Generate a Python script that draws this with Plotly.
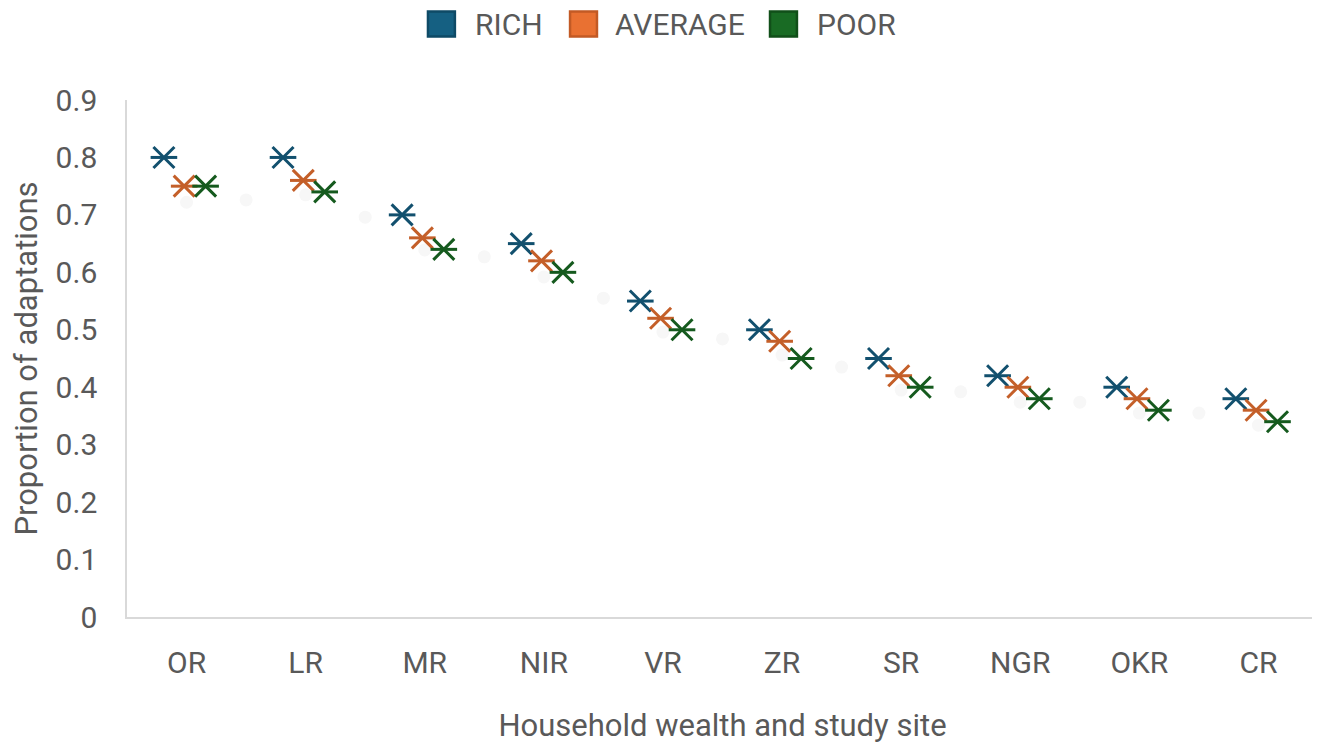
import plotly.graph_objects as go

categories = ["OR", "LR", "MR", "NIR", "VR", "ZR", "SR", "NGR", "OKR", "CR"]
rich = [0.80, 0.80, 0.70, 0.65, 0.55, 0.50, 0.45, 0.42, 0.40, 0.38]
average = [0.75, 0.76, 0.66, 0.62, 0.52, 0.48, 0.42, 0.40, 0.38, 0.36]
poor = [0.75, 0.74, 0.64, 0.60, 0.50, 0.45, 0.40, 0.38, 0.36, 0.34]

# faint shadow-like dots seen behind the markers (half-category steps)
shadow_pos = [0, 0.5, 1, 1.5, 2, 2.5, 3, 3.5, 4, 4.5, 5, 5.5, 6, 6.5, 7, 7.5, 8, 8.5, 9]
shadow_val = [0.722, 0.726, 0.735, 0.696, 0.639, 0.627, 0.592, 0.555, 0.496, 0.484,
              0.456, 0.435, 0.395, 0.392, 0.374, 0.374, 0.355, 0.355, 0.334]

series_names = ["RICH", "AVERAGE", "POOR"]
series_values = [rich, average, poor]
marker_colors = ["#12506e", "#c45f29", "#155a1e"]
legend_fills = ["#156082", "#E97132", "#196B24"]
legend_borders = ["#0e4a66", "#c25a25", "#114f19"]
offsets = [-0.19, -0.02, 0.16]

fig = go.Figure()

fig.add_trace(go.Scatter(
    x=shadow_pos, y=shadow_val, mode="markers",
    marker=dict(color="#f7f7f7", size=13, symbol="circle"),
    showlegend=False, hoverinfo="skip"))

idx = list(range(len(categories)))
for name, vals, col, off in zip(series_names, series_values, marker_colors, offsets):
    xs = [i + off for i in idx]
    fig.add_trace(go.Scatter(
        x=xs, y=vals, mode="markers", name=name, showlegend=False,
        marker=dict(symbol="x-thin-open", size=21, color=col, line=dict(color=col, width=3))))
    fig.add_trace(go.Scatter(
        x=xs, y=vals, mode="markers", name=name, showlegend=False, hoverinfo="skip",
        marker=dict(symbol="line-ew-open", size=19, color=col, line=dict(color=col, width=3))))

# manual legend (paper coordinates above the plot)
leg_sq_x0 = [0.2527, 0.3720, 0.5399]
leg_txt_x = [0.2905, 0.4081, 0.5777]
for name, fill, border, sx, tx in zip(series_names, legend_fills, legend_borders, leg_sq_x0, leg_txt_x):
    fig.add_shape(type="rect", xref="paper", yref="paper",
                  x0=sx, x1=sx + 0.0226, y0=1.1229, y1=1.1711,
                  fillcolor=fill, line=dict(color=border, width=2.5))
    fig.add_annotation(text=name, xref="paper", yref="paper", x=tx, y=1.1470,
                       xanchor="left", yanchor="middle", showarrow=False,
                       font=dict(size=30, color="#595959"))

fig.update_layout(
    width=1312, height=739,
    margin=dict(l=119, r=2, t=92, b=130),
    paper_bgcolor="white", plot_bgcolor="white",
    font=dict(family="Roboto, Arial, sans-serif", color="#595959", size=30),
    showlegend=False,
    xaxis=dict(
        range=[-0.5, 9.5], tickmode="array", tickvals=idx, ticktext=categories,
        showgrid=False, zeroline=False, showline=True, linecolor="#d9d9d9", linewidth=1.5,
        ticks="", ticklen=0, tickfont=dict(size=30, color="#595959"), ticklabelstandoff=18,
        automargin=False,
        title=dict(text="Household wealth and study site", font=dict(size=31, color="#595959"), standoff=36)),
    yaxis=dict(
        range=[0, 0.9], tickmode="array", tickvals=[0, 0.1, 0.2, 0.3, 0.4, 0.5, 0.6, 0.7, 0.8, 0.9],
        ticktext=["0", "0.1", "0.2", "0.3", "0.4", "0.5", "0.6", "0.7", "0.8", "0.9"],
        showgrid=False, zeroline=False, showline=True, linecolor="#d9d9d9", linewidth=1.5,
        ticks="", tickfont=dict(size=30, color="#595959"), ticklabelstandoff=22,
        automargin=False,
        title=dict(text="Proportion of adaptations", font=dict(size=31, color="#595959"), standoff=28)),
)

fig.write_html("out.html")
